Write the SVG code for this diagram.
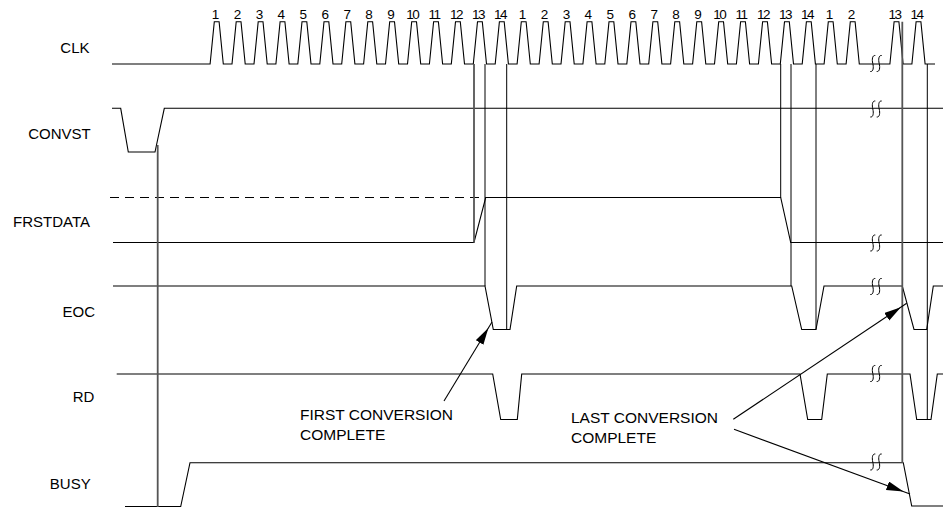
<svg xmlns="http://www.w3.org/2000/svg" width="947" height="509" viewBox="0 0 947 509">
<style>
.sig{fill:none;stroke:#000;stroke-width:1.1;stroke-linejoin:miter}
.dash{fill:none;stroke:#000;stroke-width:1.1;stroke-dasharray:9 6}
.vt{fill:none;stroke:#000;stroke-width:1}
.vk{fill:none;stroke:#555;stroke-width:1.8}
.arr{fill:none;stroke:#000;stroke-width:1.1;marker-end:url(#ah)}
text{font-family:"Liberation Sans",Arial,sans-serif;fill:#000}
.lbl{font-size:15px;text-anchor:end}
.num{font-size:13.5px;text-anchor:middle;letter-spacing:-1.5px}
.ann{font-size:15.5px}
.brkp{fill:none;stroke:#000;stroke-width:1}
</style>
<defs>
<marker id="ah" markerUnits="userSpaceOnUse" markerWidth="26" markerHeight="10" refX="24" refY="4.5" orient="auto"><path d="M0,0 L17,4.5 L0,9 Z" fill="#000"/></marker>
<g id="brk"><path class="brkp" d="M-0.7,-8 C-3.7,-8.5 -4.2,-4 -3.2,0 C-2.2,4 -2.7,8.5 -5.7,8"/><path class="brkp" d="M5.7,-8 C2.7,-8.5 2.2,-4 3.2,0 C4.2,4 3.7,8.5 0.7,8"/></g>
</defs>

<g id="labels">
<text class="lbl" x="89.5" y="53.3">CLK</text>
<text class="lbl" x="90.7" y="139.3">CONVST</text>
<text class="lbl" x="90" y="227.3">FRSTDATA</text>
<text class="lbl" x="95" y="316.7">EOC</text>
<text class="lbl" x="94.3" y="401.7">RD</text>
<text class="lbl" x="90.7" y="489.3">BUSY</text>
</g>

<g id="clk">
<path class="sig" d="M112,64 H210.1 l4.2,-42.3 h4.8 l4.2,42.3 H232 l4.2,-42.3 h4.8 l4.2,42.3 H254 l4.2,-42.3 h4.8 l4.2,42.3 H275.9 l4.2,-42.3 h4.8 l4.2,42.3 H297.8 l4.2,-42.3 h4.8 l4.2,42.3 H319.8 l4.2,-42.3 h4.8 l4.2,42.3 H341.7 l4.2,-42.3 h4.8 l4.2,42.3 H363.6 l4.2,-42.3 h4.8 l4.2,42.3 H385.5 l4.2,-42.3 h4.8 l4.2,42.3 H407.5 l4.2,-42.3 h4.8 l4.2,42.3 H429.4 l4.2,-42.3 h4.8 l4.2,42.3 H451.3 l4.2,-42.3 h4.8 l4.2,42.3 H473.3 l4.2,-42.3 h4.8 l4.2,42.3 H495.2 l4.2,-42.3 h4.8 l4.2,42.3 H517.1 l4.2,-42.3 h4.8 l4.2,42.3 H539.1 l4.2,-42.3 h4.8 l4.2,42.3 H561 l4.2,-42.3 h4.8 l4.2,42.3 H582.9 l4.2,-42.3 h4.8 l4.2,42.3 H604.8 l4.2,-42.3 h4.8 l4.2,42.3 H626.8 l4.2,-42.3 h4.8 l4.2,42.3 H648.7 l4.2,-42.3 h4.8 l4.2,42.3 H670.6 l4.2,-42.3 h4.8 l4.2,42.3 H692.6 l4.2,-42.3 h4.8 l4.2,42.3 H714.5 l4.2,-42.3 h4.8 l4.2,42.3 H736.4 l4.2,-42.3 h4.8 l4.2,42.3 H758.4 l4.2,-42.3 h4.8 l4.2,42.3 H780.3 l4.2,-42.3 h4.8 l4.2,42.3 H802.2 l4.2,-42.3 h4.8 l4.2,42.3 H824.1 l4.2,-42.3 h4.8 l4.2,42.3 H846.1 l4.2,-42.3 h4.8 l4.2,42.3 H889.9 l4.2,-42.3 h4.8 l4.2,42.3 H911.9 l4.2,-42.3 h4.8 l4.2,42.3 H935"/>
<use href="#brk" x="876" y="63.5"/>
<g id="clk-numbers">
<text class="num" x="214.8" y="19">1</text>
<text class="num" x="236.7" y="19">2</text>
<text class="num" x="258.7" y="19">3</text>
<text class="num" x="280.6" y="19">4</text>
<text class="num" x="302.5" y="19">5</text>
<text class="num" x="324.5" y="19">6</text>
<text class="num" x="346.4" y="19">7</text>
<text class="num" x="368.3" y="19">8</text>
<text class="num" x="390.2" y="19">9</text>
<text class="num" x="412.2" y="19">10</text>
<text class="num" x="434.1" y="19">11</text>
<text class="num" x="456" y="19">12</text>
<text class="num" x="478" y="19">13</text>
<text class="num" x="499.9" y="19">14</text>
<text class="num" x="521.8" y="19">1</text>
<text class="num" x="543.8" y="19">2</text>
<text class="num" x="565.7" y="19">3</text>
<text class="num" x="587.6" y="19">4</text>
<text class="num" x="609.5" y="19">5</text>
<text class="num" x="631.5" y="19">6</text>
<text class="num" x="653.4" y="19">7</text>
<text class="num" x="675.3" y="19">8</text>
<text class="num" x="697.3" y="19">9</text>
<text class="num" x="719.2" y="19">10</text>
<text class="num" x="741.1" y="19">11</text>
<text class="num" x="763.1" y="19">12</text>
<text class="num" x="785" y="19">13</text>
<text class="num" x="806.9" y="19">14</text>
<text class="num" x="828.8" y="19">1</text>
<text class="num" x="850.8" y="19">2</text>
<text class="num" x="894.6" y="19">13</text>
<text class="num" x="916.6" y="19">14</text>
</g>
</g>

<g id="convst">
<path class="sig" d="M112,108.3 H120.7 L128.3,152 H155 L164.3,108.3 H943"/>
<use href="#brk" x="876" y="109"/>
</g>

<g id="frstdata">
<path class="dash" d="M110,197.5 H485.7"/>
<path class="sig" d="M113,242.5 H474 L485.7,197.5 H780.7 L790.7,242.5 H943"/>
<use href="#brk" x="876" y="243"/>
</g>

<g id="eoc">
<path class="sig" d="M113,286 H485 L493.3,329.5 H510 L516.7,286 H791.7 L801.7,329.5 H816 L824,286 H902.3 L914,329.5 H926.7 L933.3,286 H943"/>
<use href="#brk" x="876" y="286.5"/>
</g>

<g id="rd">
<path class="sig" d="M116.7,374 H492.7 L500.7,419.5 H517.3 L521.7,374 H800 L807.7,419.5 H821.7 L827.3,374 H910 L916.7,419.5 H931 L937.3,374 H943"/>
<use href="#brk" x="876" y="373.5"/>
</g>

<g id="busy">
<path class="sig" d="M125,506.5 H180.7 L190,462.7 H903.3 L911.7,506 H943"/>
<use href="#brk" x="876" y="462"/>
</g>

<g id="connectors">
<path class="vk" d="M157.7,145 V507"/>
<path class="vk" d="M474,64 V242.5"/>
<path class="vt" d="M485,64 V286"/>
<path class="vt" d="M506.7,64 V329.5"/>
<path class="vt" d="M780.7,64 V197.5"/>
<path class="vt" d="M791,64 V286"/>
<path class="vt" d="M816,64 V329.5"/>
<path class="vk" d="M902.3,21.7 V462.7"/>
<path class="vt" d="M927.3,64 V419.5"/>
<path class="arr" d="M444,401 L492,322"/>
<path class="arr" d="M733.3,419.3 L906.7,303.3"/>
<path class="arr" d="M734,429.3 L910,494"/>
</g>

<g id="annotations">
<text class="ann" x="300" y="420">FIRST CONVERSION</text>
<text class="ann" x="300" y="440">COMPLETE</text>
<text class="ann" x="571" y="423.3">LAST CONVERSION</text>
<text class="ann" x="571" y="442.5">COMPLETE</text>
</g>
</svg>
